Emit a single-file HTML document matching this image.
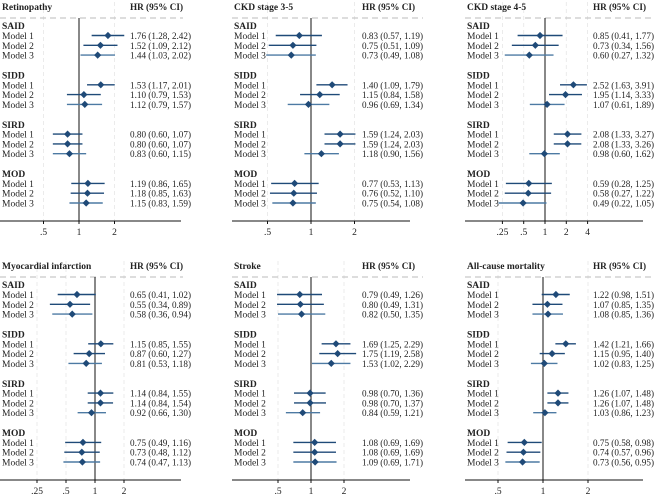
<!DOCTYPE html>
<html><head><meta charset="utf-8">
<style>
body{margin:0;background:#fff;}
svg{display:block;font-family:"Liberation Serif",serif;}
</style></head>
<body>
<svg id="c" width="655" height="494" xmlns="http://www.w3.org/2000/svg"></svg>
<script>
const groups = ["SAID","SIDD","SIRD","MOD"];
const models = ["Model 1","Model 2","Model 3"];
const titles = ["Retinopathy","CKD stage 3-5","CKD stage 4-5","Myocardial infarction","Stroke","All-cause mortality"];
const tickLabels = [[".5","1","2"],[".5","1","2"],[".25",".5","1","2","4"],[".25",".5","1","2"],[".5","1","2"],[".5","1","2"]];
const tickValues = [[0.5,1,2],[0.5,1,2],[0.25,0.5,1,2,4],[0.25,0.5,1,2],[0.5,1,2],[0.5,1,2]];
const hr = [
 [1.76,1.52,1.44,1.53,1.10,1.12,0.80,0.80,0.83,1.19,1.18,1.15],
 [0.83,0.75,0.73,1.40,1.15,0.96,1.59,1.59,1.18,0.77,0.76,0.75],
 [0.85,0.73,0.60,2.52,1.95,1.07,2.08,2.08,0.98,0.59,0.58,0.49],
 [0.65,0.55,0.58,1.15,0.87,0.81,1.14,1.14,0.92,0.75,0.73,0.74],
 [0.79,0.80,0.82,1.69,1.75,1.53,0.98,0.98,0.84,1.08,1.08,1.09],
 [1.22,1.07,1.08,1.42,1.15,1.02,1.26,1.26,1.03,0.75,0.74,0.73]];
const lo = [
 [1.28,1.09,1.03,1.17,0.79,0.79,0.60,0.60,0.60,0.86,0.85,0.83],
 [0.57,0.51,0.49,1.09,0.84,0.69,1.24,1.24,0.90,0.53,0.52,0.54],
 [0.41,0.34,0.27,1.63,1.14,0.61,1.33,1.33,0.60,0.28,0.27,0.22],
 [0.41,0.34,0.36,0.85,0.60,0.53,0.84,0.84,0.66,0.49,0.48,0.47],
 [0.49,0.49,0.50,1.25,1.19,1.02,0.70,0.70,0.59,0.69,0.69,0.69],
 [0.98,0.85,0.85,1.21,0.95,0.83,1.07,1.07,0.86,0.58,0.57,0.56]];
const hi = [
 [2.42,2.12,2.02,2.01,1.53,1.57,1.07,1.07,1.15,1.65,1.63,1.59],
 [1.19,1.09,1.08,1.79,1.58,1.34,2.03,2.03,1.56,1.13,1.10,1.08],
 [1.77,1.56,1.32,3.91,3.33,1.89,3.27,3.26,1.62,1.25,1.22,1.05],
 [1.02,0.89,0.94,1.55,1.27,1.18,1.55,1.54,1.30,1.16,1.12,1.13],
 [1.26,1.31,1.35,2.29,2.58,2.29,1.36,1.37,1.21,1.69,1.69,1.71],
 [1.51,1.35,1.36,1.66,1.40,1.25,1.48,1.48,1.23,0.98,0.96,0.95]];

// layout (not data)
const panelLeft=[0,232,465,0,232,465];
const valX=[130,362,593,130,362,593];
const refX=[79,311,545,95,311,543];
const unit=[35.5,43.5,21.3,29,33,45];
const yOff=[0,0,0,259,259,259];
const divEnd=[183,423,655,183,423,655];
const NS="http://www.w3.org/2000/svg";
const svg=document.getElementById('c');
function mk(tag,attrs,parent){const e=document.createElementNS(NS,tag);for(const k in attrs)e.setAttribute(k,attrs[k]);(parent||svg).appendChild(e);return e;}
const fmt=v=>v.toFixed(2);
for(let p=0;p<6;p++){
  const g=mk('g',{});
  
  
  const xs=v=>refX[p]+Math.log2(v)*unit[p];
  const yo=yOff[p];
  const L=panelLeft[p], R=(p%3===0?181:(p%3===1?410:643));
  const rowY=(gi,mi)=>yo+35.5+gi*49.3+mi*9.8;
  tickValues[p].forEach(t=>{if(t!==1){const gl=mk('line',{x1:xs(t),x2:xs(t),y1:yo+2,y2:yo+221,stroke:'#e6e6e6','stroke-width':0.8,'stroke-dasharray':'4,3'},g);
    }});
  const t=mk('text',{x:L+2,y:yo+10,'font-size':9.5,'font-weight':'bold',fill:'#222'},g);t.textContent=titles[p];
  
  const h=mk('text',{x:valX[p],y:yo+10,'font-size':9.5,'font-weight':'bold',fill:'#222',textLength:53,lengthAdjust:'spacingAndGlyphs'},g);h.textContent='HR (95% CI)';
  
  const dl=mk('line',{x1:L,x2:divEnd[p],y1:yo+18,y2:yo+18,stroke:'#bbb','stroke-width':0.9,'stroke-dasharray':'6,4'},g);
  
  const rl=mk('line',{x1:refX[p],x2:refX[p],y1:yo+18,y2:yo+221,stroke:'#111','stroke-width':1},g);
  
  const ax=mk('line',{x1:L,x2:R,y1:yo+221,y2:yo+221,stroke:'#111','stroke-width':1},g);
  
  tickValues[p].forEach((tv,i)=>{
    const tk=mk('line',{x1:xs(tv),x2:xs(tv),y1:yo+221,y2:yo+224,stroke:'#111'},g);
    
    const tl=mk('text',{x:xs(tv),y:yo+235,'font-size':9.5,'text-anchor':'middle',fill:'#222'},g);tl.textContent=tickLabels[p][i];
    
  });
  groups.forEach((gn,gi)=>{
    const gh=mk('text',{x:L+2,y:rowY(gi,0)-9.8+3.5,'font-size':9.5,'font-weight':'bold',fill:'#222'},g);gh.textContent=gn;
    
    models.forEach((mn,mi)=>{
      const k=gi*3+mi,y=rowY(gi,mi);
      const col=mi===2?'#4d7aa3':'#1f4a78';
      const ml=mk('text',{x:L+2,y:y+3.5,'font-size':9.5,fill:'#222'},g);ml.textContent=mn;
      
      const ci=mk('line',{x1:xs(lo[p][k]),x2:xs(hi[p][k]),y1:y,y2:y,stroke:col,'stroke-width':1.4},g);
      
      const cx=xs(hr[p][k]);
      const pt=mk('polygon',{points:`${cx},${y-3.6} ${cx+3.6},${y} ${cx},${y+3.6} ${cx-3.6},${y}`,fill:'#1f4a78'},g);
      
      const vt=mk('text',{x:valX[p],y:y+3.5,'font-size':9.5,fill:'#222',textLength:61,lengthAdjust:'spacingAndGlyphs'},g);
      vt.textContent=`${fmt(hr[p][k])} (${fmt(lo[p][k])}, ${fmt(hi[p][k])})`;
      
    });
  });
}
</script>
</body></html>
